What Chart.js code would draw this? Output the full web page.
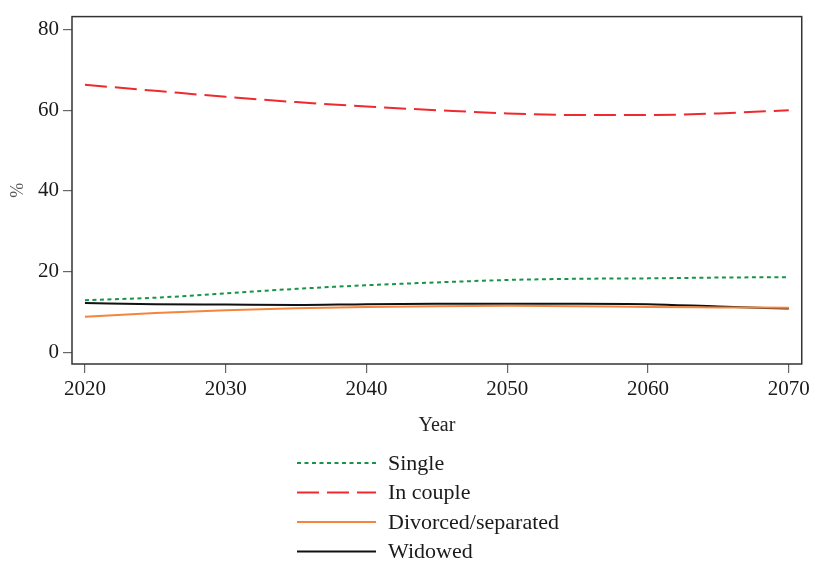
<!DOCTYPE html>
<html>
<head>
<meta charset="utf-8">
<script src="https://cdn.jsdelivr.net/npm/chart.js@4.4.0/dist/chart.umd.min.js"></script>
<style>
  body { margin: 0; background: #fff; }
  #chart { display: block; }
</style>
</head>
<body>
<canvas id="chart" width="814" height="563"></canvas>
<script>
// vuodet ja sarjojen arvot (%), luettu kuvasta
const years = [2020, 2025, 2030, 2035, 2040, 2045, 2050, 2055, 2060, 2065, 2070];
const single = [12.9, 13.5, 14.6, 15.7, 16.6, 17.3, 17.9, 18.2, 18.3, 18.5, 18.6];
const inCouple = [66.3, 64.8, 63.3, 62.0, 60.9, 60.0, 59.2, 58.8, 58.8, 59.2, 60.0];
const divorced = [8.8, 9.7, 10.4, 10.9, 11.2, 11.4, 11.5, 11.4, 11.2, 11.1, 11.0];
const widowed = [12.2, 11.9, 11.8, 11.7, 11.9, 12.0, 12.0, 12.0, 11.9, 11.3, 10.8];

const seriesNames = ["Single", "In couple", "Divorced/separated", "Widowed"];
const xTicks = [2020, 2030, 2040, 2050, 2060, 2070];
const yTicks = [0, 20, 40, 60, 80];

const FONT = "'Liberation Serif', 'Times New Roman', serif";

function toPoints(arr) {
    return arr.map((v, i) => ({ x: years[i], y: v }));
}

// kehys kuvaajan ympärille
const framePlugin = {
    id: "frame",
    afterDraw(chart) {
        const a = chart.chartArea;
        const c = chart.ctx;
        c.save();
        c.strokeStyle = "#333";
        c.lineWidth = 1.5;
        c.strokeRect(a.left, a.top, a.right - a.left, a.bottom - a.top);
        c.restore();
    }
};

// selite allekkain kuvaajan alle
const legendPlugin = {
    id: "stackLegend",
    afterDraw(chart) {
        const c = chart.ctx;
        c.save();
        chart.data.datasets.forEach(function (ds, i) {
            const y = 463 + i * 29.5;
            c.strokeStyle = ds.borderColor;
            c.lineWidth = ds.borderWidth;
            c.setLineDash(ds.borderDash || []);
            c.beginPath();
            c.moveTo(297, y);
            c.lineTo(376, y);
            c.stroke();
            c.setLineDash([]);
            c.fillStyle = "#1a1a1a";
            c.font = "22px " + FONT;
            c.textBaseline = "middle";
            c.fillText(ds.label, 388, y + 1);
        });
        c.restore();
    }
};

const ctx = document.getElementById("chart").getContext("2d");

new Chart(ctx, {
    type: "line",
    data: {
        datasets: [
            {
                label: seriesNames[0],
                data: toPoints(single),
                borderColor: "#17934a",
                borderWidth: 2,
                borderDash: [4, 3.5]
            },
            {
                label: seriesNames[1],
                data: toPoints(inCouple),
                borderColor: "#ee2a2f",
                borderWidth: 2,
                borderDash: [22, 8]
            },
            {
                label: seriesNames[2],
                data: toPoints(divorced),
                borderColor: "#f4843f",
                borderWidth: 2
            },
            {
                label: seriesNames[3],
                data: toPoints(widowed),
                borderColor: "#111",
                borderWidth: 2
            }
        ]
    },
    options: {
        responsive: false,
        animation: false,
        layout: { padding: { top: 11, right: 12, bottom: 125, left: 0 } },
        elements: {
            point: { radius: 0 },
            line: { cubicInterpolationMode: "monotone" }
        },
        plugins: {
            legend: { display: false },
            tooltip: { enabled: false }
        },
        scales: {
            x: {
                type: "linear",
                min: 2019.08,
                max: 2070.92,
                afterBuildTicks: s => { s.ticks = xTicks.map(v => ({ value: v })); },
                afterFit: s => { s.height = 74; },
                border: { display: false },
                grid: { drawOnChartArea: false, drawTicks: true, tickLength: 9, color: "#666", lineWidth: 1.2 },
                ticks: {
                    padding: 4,
                    color: "#1a1a1a",
                    font: { family: FONT, size: 21 },
                    maxRotation: 0,
                    callback: v => String(v)
                },
                title: {
                    display: true,
                    text: "Year",
                    color: "#222",
                    font: { family: FONT, size: 20 },
                    padding: { top: 0, bottom: 0 }
                }
            },
            y: {
                min: -2.93,
                max: 83.2,
                afterBuildTicks: s => { s.ticks = yTicks.map(v => ({ value: v })); },
                afterFit: s => { s.width = 72; },
                border: { display: false },
                grid: { drawOnChartArea: false, drawTicks: true, tickLength: 9, color: "#666", lineWidth: 1.2 },
                ticks: {
                    padding: 4,
                    color: "#1a1a1a",
                    font: { family: FONT, size: 21 },
                    callback: v => String(v)
                },
                title: {
                    display: true,
                    text: "%",
                    color: "#555",
                    font: { family: FONT, size: 18 },
                    padding: { top: 7, bottom: 7 }
                }
            }
        }
    },
    plugins: [framePlugin, legendPlugin]
});
</script>
</body>
</html>
